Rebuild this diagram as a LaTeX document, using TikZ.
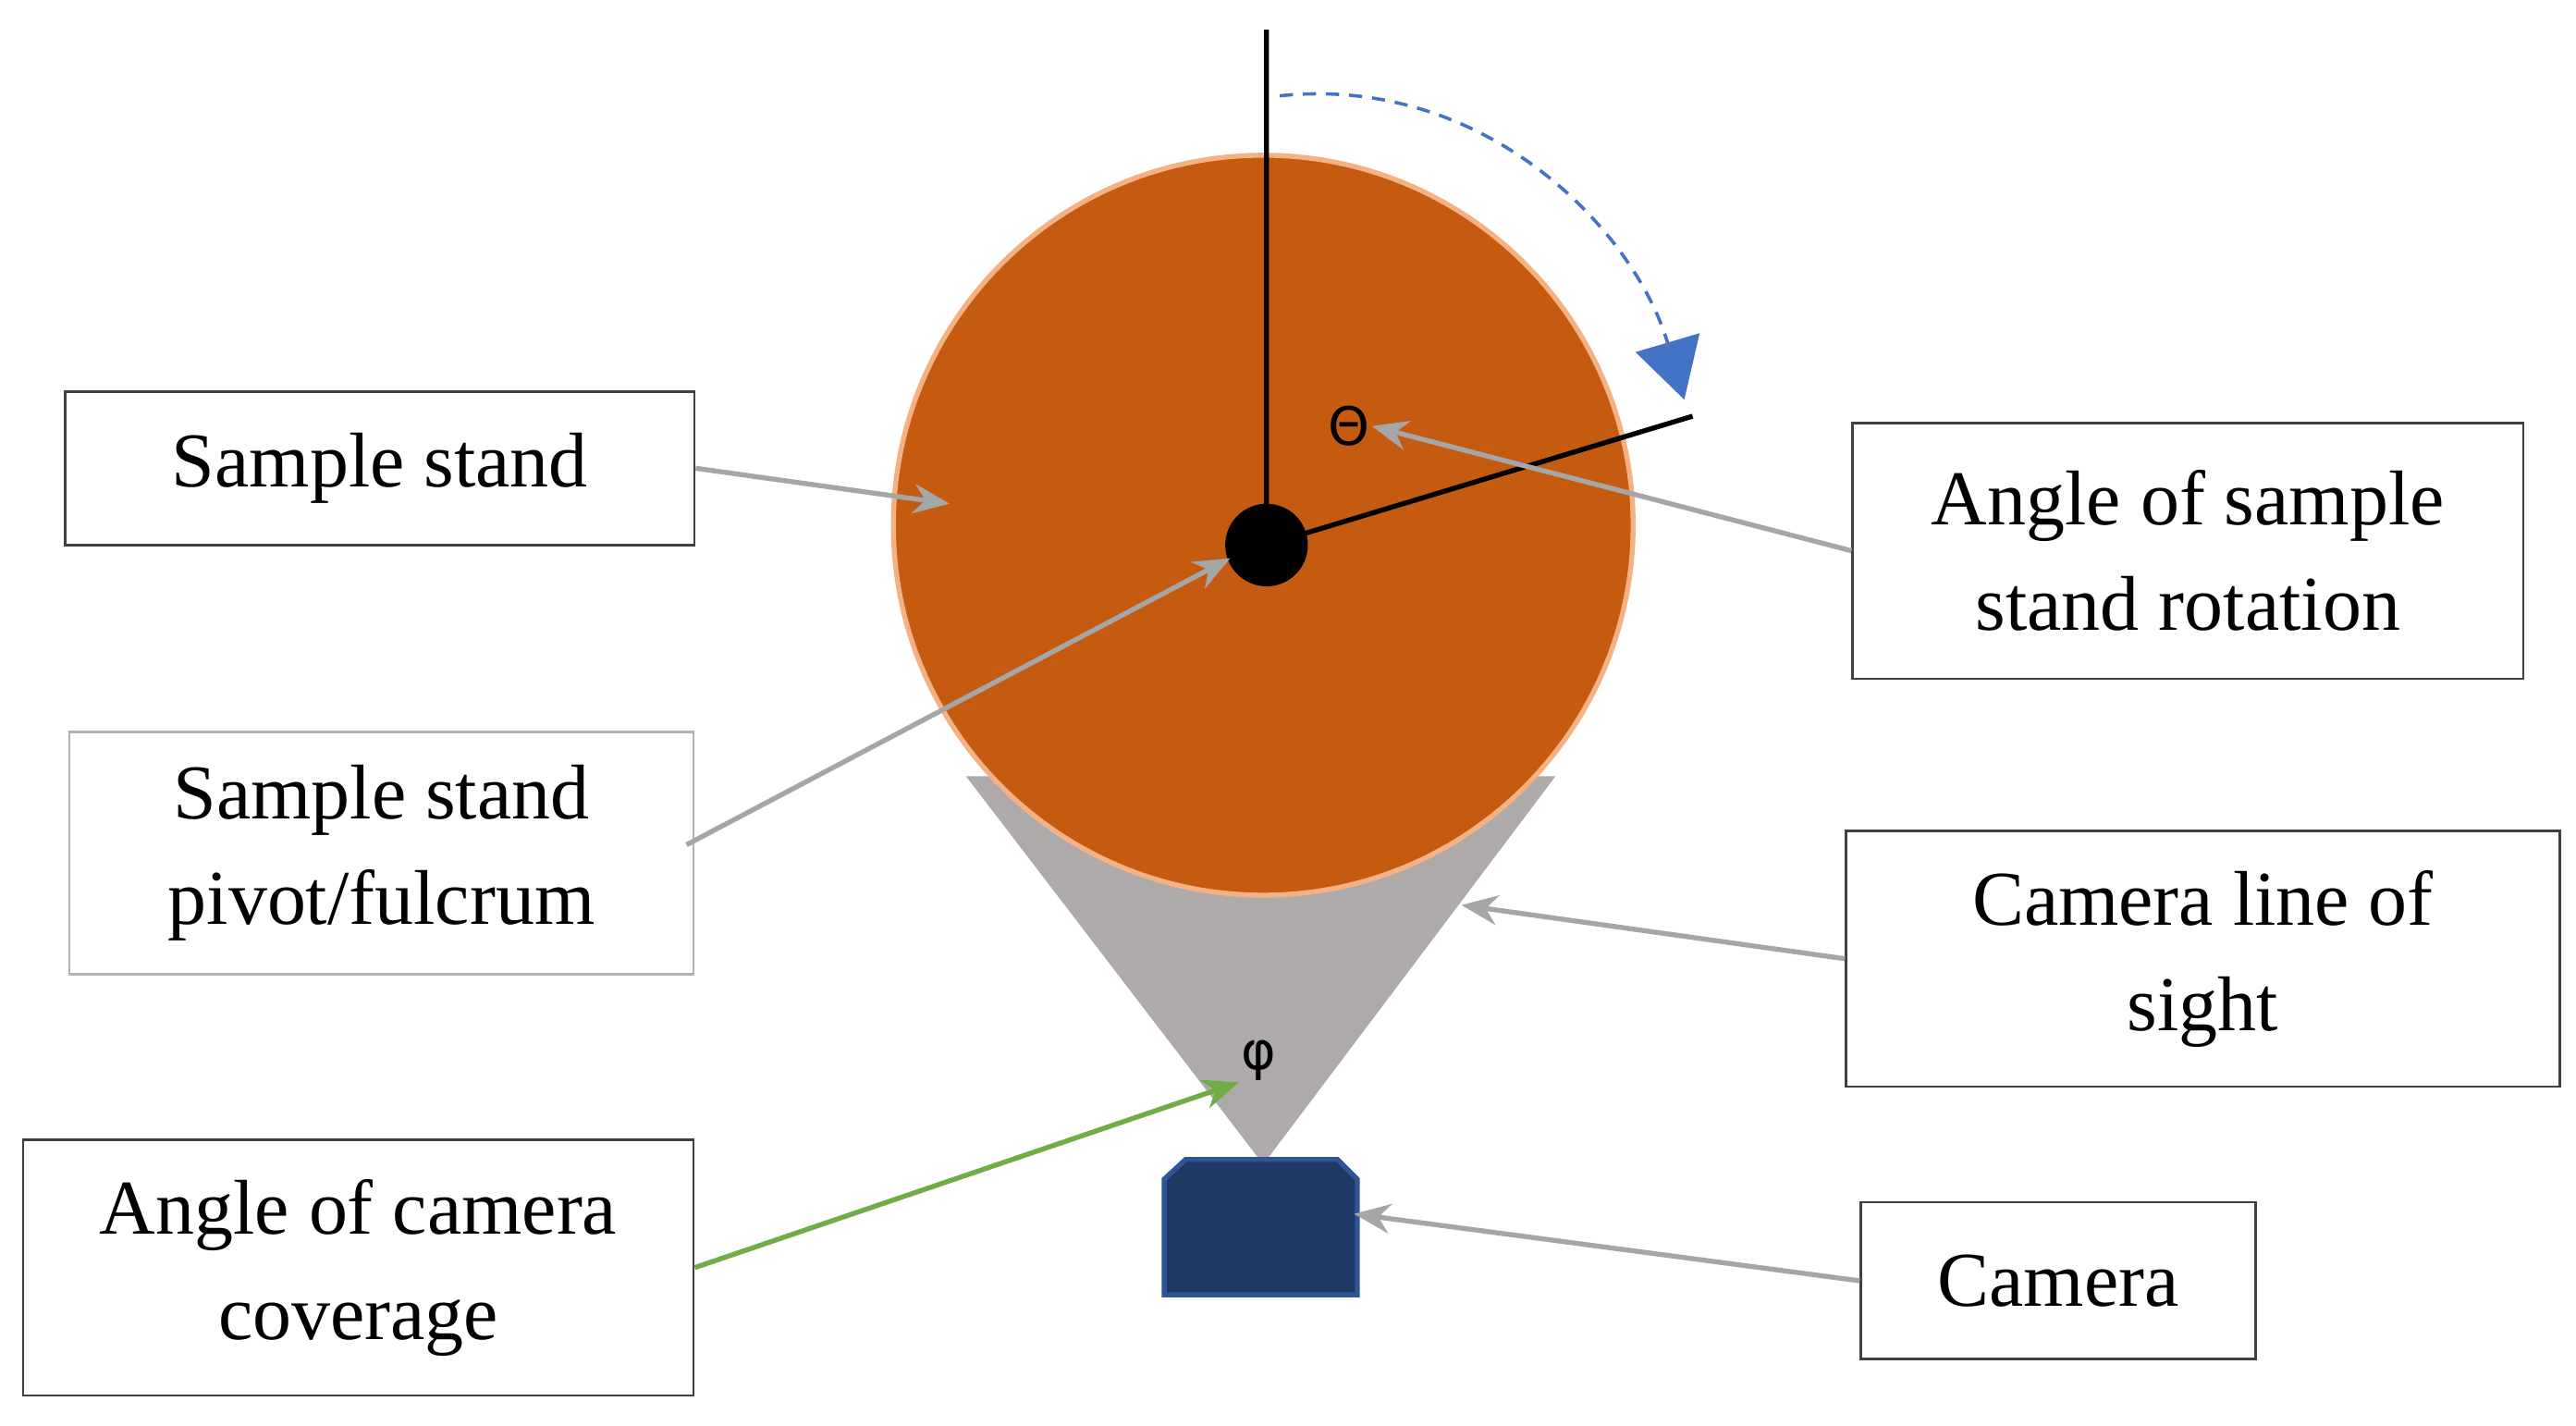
\documentclass[tikz,border=0pt]{standalone}
\usepackage{fontspec}
\setmainfont{Liberation Serif}
\newfontfamily\symf{DejaVu Sans}
\usetikzlibrary{arrows.meta}
\definecolor{stand}{HTML}{C55A11}
\definecolor{standb}{HTML}{F4B183}
\definecolor{sight}{HTML}{AEAAAA}
\definecolor{cam}{HTML}{203864}
\definecolor{camb}{HTML}{2F5597}
\definecolor{blu}{HTML}{4472C4}
\definecolor{grn}{HTML}{70AD47}
\begin{document}
\begin{tikzpicture}[x=1pt,y=-1pt,
  box/.style={draw=black!75,line width=1.5pt,fill=white,align=center,font=\fontsize{47}{64}\selectfont,inner sep=0pt},
  garrow/.style={draw=black!35,line width=3pt,-{Stealth[length=22pt,width=18pt]}},
  lbl/.style={font=\symf\fontsize{32}{36}\selectfont,inner sep=1pt}]
\useasboundingbox (0,0) rectangle (1560,863);
\fill[sight] (585,470) -- (942,470) -- (765,705) -- cycle;
\node[circle,minimum size=448pt,fill=stand,draw=standb,line width=3pt] (disc) at (765,318) {};
\coordinate (top) at (767,18);
\coordinate (ray) at (1025,252);
\node[circle,fill=black,minimum size=50pt,inner sep=0pt] (pivot) at (767,330) {};
\draw[line width=3pt] (top) -- (pivot.center) -- (ray);
\coordinate (arcs) at (775,58);
\coordinate (arce) at (1020,242);
\draw[blu,dash pattern=on 8pt off 6pt,line width=2pt,-{Triangle[length=36pt,width=40pt]}] (arcs) .. controls (900,45) and (990,140) .. (arce);
\node[lbl] (theta) at (817,258) {Θ};
\node[lbl] (phi) at (762,642) {φ};
\draw[fill=cam,draw=camb,line width=3pt] (718,702) -- (810,702) -- (822,714) -- (822,784) -- (705,784) -- (705,714) -- cycle;
\coordinate (camr) at (820,735);
\node[box,minimum width=381pt,minimum height=93pt] (bstand) at (230,283.5) {Sample stand};
\node[box,draw=black!30,minimum width=378pt,minimum height=147pt] (bpivot) at (231,516.5) {Sample stand\\pivot/fulcrum};
\node[box,minimum width=406pt,minimum height=155pt] (bcov) at (217,767.5) {Angle of camera\\coverage};
\node[box,minimum width=406pt,minimum height=155pt] (brot) at (1325,333.5) {Angle of sample\\stand rotation};
\node[box,minimum width=432pt,minimum height=155pt] (bsight) at (1334,580.5) {Camera line of\\sight};
\node[box,minimum width=239pt,minimum height=95pt] (bcam) at (1246.5,775.5) {Camera};
\draw[garrow] (bstand.east) -- (575,305);
\draw[garrow] (bpivot.east) ++(-5,-5) -- (745,338);
\draw[garrow] (brot.west) -- (theta.east);
\draw[garrow] (bsight.west) -- (885,548);
\draw[garrow] (bcam.west) -- (camr);
\draw[grn,line width=3pt,-{Stealth[length=22pt,width=18pt]}] (bcov.east) -- (phi.south west);
\end{tikzpicture}
\end{document}
